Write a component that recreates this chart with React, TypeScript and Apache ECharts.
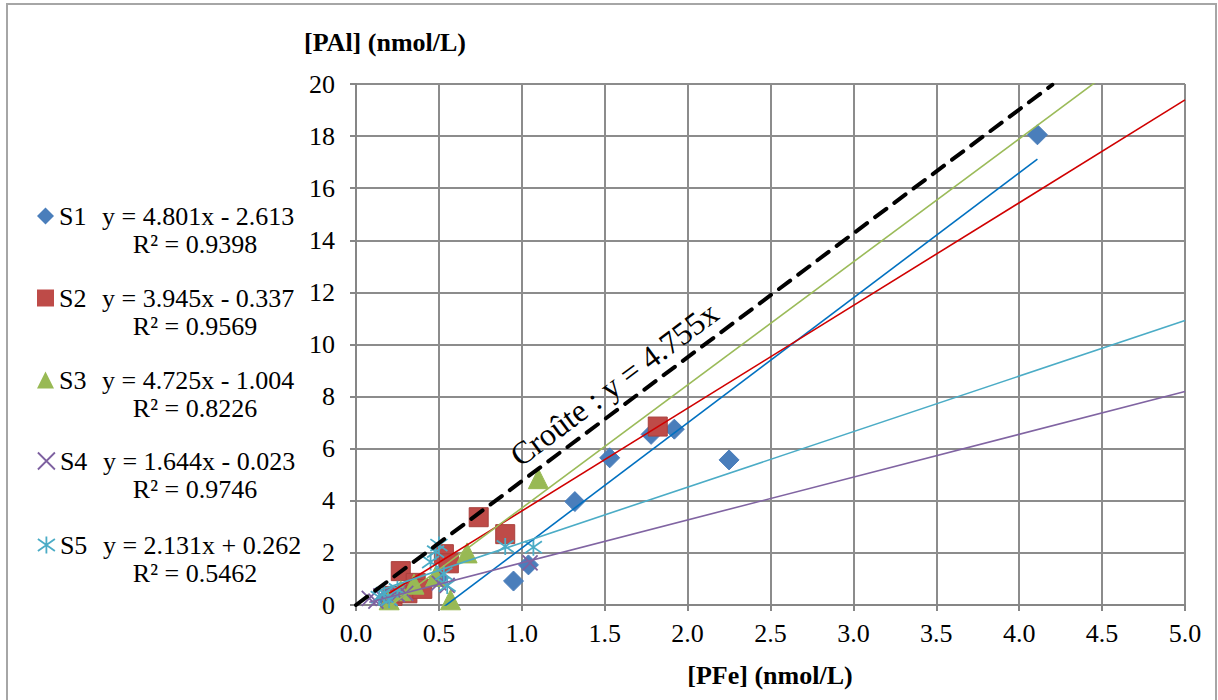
import React, { useEffect, useRef } from "react";
import * as echarts from "echarts";

const FONT = "Liberation Serif";

const seriesNames = ["S1", "S2", "S3", "S4", "S5"];
const equations = [
  "y = 4.801x - 2.613",
  "y = 3.945x - 0.337",
  "y = 4.725x - 1.004",
  "y = 1.644x - 0.023",
  "y = 2.131x + 0.262",
];
const r2Labels = ["R² = 0.9398", "R² = 0.9569", "R² = 0.8226", "R² = 0.9746", "R² = 0.5462"];
const slopes = [4.801, 3.945, 4.725, 1.644, 2.131];
const intercepts = [-2.613, -0.337, -1.004, -0.023, 0.262];
const trendXStart = [0.18, 0.2, 0.2, 0.08, 0.1];
const trendXEnd = [4.11, 5.0, 5.0, 5.0, 5.0];

const crusteSlope = 4.755;
const crusteXEnd = 4.2;

const s1X = [0.18, 0.5, 0.95, 1.04, 1.32, 1.53, 1.78, 1.92, 2.25, 4.11];
const s1Y = [0.25, 1.05, 0.92, 1.54, 3.97, 5.65, 6.55, 6.75, 5.57, 18.05];
const s2X = [0.22, 0.27, 0.31, 0.36, 0.4, 0.53, 0.56, 0.74, 0.9, 1.82];
const s2Y = [0.35, 1.3, 0.45, 0.85, 0.62, 1.95, 1.6, 3.37, 2.72, 6.85];
const s3X = [0.2, 0.27, 0.35, 0.48, 0.57, 0.67, 1.1];
const s3Y = [0.2, 0.55, 0.8, 1.1, 0.2, 2.0, 4.85];
const s4X = [0.08, 0.12, 0.15, 0.2, 0.25, 0.3, 0.5, 0.55, 1.05];
const s4Y = [0.25, 0.15, 0.35, 0.25, 0.4, 0.45, 0.85, 0.75, 1.62];
const s5X = [0.14, 0.17, 0.2, 0.25, 0.45, 0.48, 0.5, 0.53, 0.55, 0.9, 1.07];
const s5Y = [0.3, 0.45, 0.2, 0.6, 1.65, 2.05, 2.3, 1.2, 0.75, 2.25, 2.22];

const xTicks = { min: 0, max: 5, interval: 0.5 };
const yTicks = { min: 0, max: 20, interval: 2 };

const markerColors = ["#4A7EBB", "#BE4B48", "#98B954", "#7D60A0", "#4BACC6"];
const trendColors = ["#0070C0", "#D00000", "#9BBB59", "#8064A2", "#4BACC6"];
const X_PATH = "path://M0,0L10,10M10,0L0,10";
const STAR_PATH = "path://M5,0L5,10M0,1.5L10,8.5M0,8.5L10,1.5";
const symbols = ["diamond", "rect", "triangle", X_PATH, STAR_PATH];
const symbolSizes = [20, 19, 20, 15, 17];

const allX = [s1X, s2X, s3X, s4X, s5X];
const allY = [s1Y, s2Y, s3Y, s4Y, s5Y];

const legendRowY = [213, 295, 377, 458, 542];

export default function App() {
  const ref = useRef<HTMLDivElement>(null);
  useEffect(() => {
    if (!ref.current) return;
    const chart = echarts.init(ref.current, null, { renderer: "svg" });

    const scatterSeries = seriesNames.map((name, i) => {
      const isLine = i >= 3;
      return {
        name,
        type: "scatter",
        data: allX[i].map((x, k) => [x, allY[i][k]]),
        symbol: symbols[i],
        symbolSize: symbolSizes[i],
        itemStyle: isLine
          ? { color: "rgba(0,0,0,0)", borderColor: markerColors[i], borderWidth: 1.8, opacity: 1 }
          : { color: markerColors[i], borderColor: i === 1 ? "#A8403D" : markerColors[i], borderWidth: 1, opacity: 1 },
        z: 2,
      };
    });

    const trendSeries = seriesNames.map((name, i) => ({
      name: name + " trend",
      type: "line",
      data: [
        [trendXStart[i], slopes[i] * trendXStart[i] + intercepts[i]],
        [trendXEnd[i], slopes[i] * trendXEnd[i] + intercepts[i]],
      ],
      showSymbol: false,
      symbol: "none",
      clip: true,
      lineStyle: { color: trendColors[i], width: 1.6 },
      z: 3,
      silent: true,
    }));

    const crusteSeries = {
      name: "Croûte",
      type: "line",
      data: [
        [0, 0],
        [crusteXEnd, crusteSlope * crusteXEnd],
      ],
      showSymbol: false,
      symbol: "none",
      clip: true,
      lineStyle: { color: "#000", width: 4, type: [14, 10], cap: "round" },
      z: 4,
      silent: true,
    };

    const legends = seriesNames.map((name, i) => ({
      data: [
        {
          name,
          icon: symbols[i],
          itemStyle:
            i >= 3
              ? { color: "rgba(0,0,0,0)", borderColor: markerColors[i], borderWidth: 1.8 }
              : { color: markerColors[i], borderWidth: 0 },
        },
      ],
      left: 32,
      top: legendRowY[i] - 15,
      orient: "vertical",
      itemWidth: 17,
      itemHeight: 17,
      selectedMode: false,
      formatter: () => `{a|${name}}{b|${equations[i]}}`,
      textStyle: {
        fontFamily: FONT,
        fontSize: 26,
        lineHeight: 24,
        color: "#000",
        rich: {
          a: { fontFamily: FONT, fontSize: 26, lineHeight: 24, color: "#000", width: 43 },
          b: { fontFamily: FONT, fontSize: 26, lineHeight: 24, color: "#000" },
        },
      },
    }));

    const r2Texts = r2Labels.map((t, i) => ({
      type: "text",
      x: 195,
      y: legendRowY[i] + 31,
      style: {
        text: t,
        fontFamily: FONT,
        fontSize: 26,
        lineHeight: 24,
        fill: "#000",
        textAlign: "center",
        textVerticalAlign: "middle",
      },
    }));

    const angle = (Math.atan((crusteSlope * 26.05) / 165.8) * 180) / Math.PI;

    chart.setOption({
      animation: false,
      backgroundColor: "#fff",
      grid: { left: 356, top: 84, right: 33, bottom: 95, containLabel: false },
      xAxis: {
        type: "value",
        min: xTicks.min,
        max: xTicks.max,
        interval: xTicks.interval,
        axisLine: { show: true, onZero: false, lineStyle: { color: "#868686", width: 2 } },
        axisTick: { show: true, length: 6, lineStyle: { color: "#868686", width: 2 } },
        splitLine: { show: true, lineStyle: { color: "#8C8C8C", width: 2 } },
        axisLabel: {
          formatter: (v: number) => v.toFixed(1),
          fontFamily: FONT,
          fontSize: 26,
          color: "#000",
          margin: 15,
        },
      },
      yAxis: {
        type: "value",
        min: yTicks.min,
        max: yTicks.max,
        interval: yTicks.interval,
        axisLine: { show: true, onZero: false, lineStyle: { color: "#868686", width: 2 } },
        axisTick: { show: true, length: 6, lineStyle: { color: "#868686", width: 2 } },
        splitLine: { show: true, lineStyle: { color: "#8C8C8C", width: 2 } },
        axisLabel: {
          fontFamily: FONT,
          fontSize: 26,
          color: "#000",
          margin: 21,
        },
      },
      legend: legends,
      graphic: [
        {
          type: "rect",
          shape: { x: 7, y: 4, width: 1209, height: 710 },
          style: { fill: "none", stroke: "#A6A6A6", lineWidth: 2 },
          silent: true,
          z: -1,
        },
        {
          type: "text",
          x: 385,
          y: 42,
          style: {
            text: "[PAl] (nmol/L)",
            fontFamily: FONT,
            fontSize: 26,
            fontWeight: "bold",
            fill: "#000",
            textAlign: "center",
            textVerticalAlign: "middle",
          },
        },
        {
          type: "text",
          x: 770,
          y: 675,
          style: {
            text: "[PFe] (nmol/L)",
            fontFamily: FONT,
            fontSize: 26,
            fontWeight: "bold",
            fill: "#000",
            textAlign: "center",
            textVerticalAlign: "middle",
          },
        },
        {
          type: "text",
          x: 614,
          y: 384,
          rotation: (angle * Math.PI) / 180,
          style: {
            text: "Croûte : y = 4.755x",
            fontFamily: FONT,
            fontSize: 32,
            fill: "#000",
            textAlign: "center",
            textVerticalAlign: "middle",
          },
          z: 10,
        },
        ...r2Texts,
      ],
      series: [...scatterSeries, ...trendSeries, crusteSeries],
    });
    return () => chart.dispose();
  }, []);
  return (
    <div
      ref={ref}
      style={{ position: "absolute", left: 0, top: 0, width: 1218, height: 700 }}
    />
  );
}
